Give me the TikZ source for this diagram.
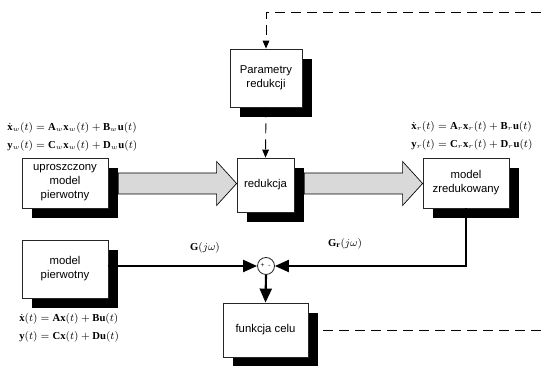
\documentclass[tikz,border=0pt]{standalone}
\usepackage{fontspec}
\setmainfont{Liberation Serif}
\newfontfamily\arialf{Liberation Sans}
\usetikzlibrary{arrows.meta,shadows,calc}
\newcommand\sbw{_{\scriptscriptstyle w}}
\newcommand\sbr{_{\scriptscriptstyle r}}
\begin{document}
\begin{tikzpicture}[x=0.75pt,y=0.75pt,
 blk/.style={draw=black!85, line width=0.6pt, fill=white, align=center,
   font=\arialf\fontsize{8.5}{10.5}\selectfont, inner sep=1pt,
   drop shadow={shadow xshift=7.5pt, shadow yshift=-7.5pt, fill=black, opacity=1}},
 thickline/.style={line width=1.6pt},
 bigtip/.style={-{Triangle[length=10.5pt,width=9pt]}},
 dashline/.style={line width=0.7pt, dash pattern=on 7.5pt off 4.5pt},
 smalltip/.style={-{Triangle[length=6pt,width=5pt]}},
 eq/.style={anchor=west, font=\fontsize{8}{10}\selectfont, inner sep=0pt},
 hollow/.style={draw=black, line width=0.5pt, fill=black!15},
 lbl/.style={font=\fontsize{8}{10}\selectfont, inner sep=0pt},
]
\useasboundingbox (0,0) rectangle (541,366);
% blocks
\node[blk, minimum width=64.5pt, minimum height=37.5pt] (upr) at (65,183) {uproszczony\\model\\pierwotny};
\node[blk, minimum width=54pt, minimum height=43.5pt] (par) at (266,288) {Parametry\\redukcji};
\node[blk, minimum width=42.75pt, minimum height=40.5pt] (red) at (265.5,181) {redukcja};
\node[blk, minimum width=64.5pt, minimum height=37.5pt] (zred) at (466,183) {model\\zredukowany};
\node[blk, minimum width=64.5pt, minimum height=43.5pt] (mp) at (65,97) {model\\pierwotny};
\node[blk, minimum width=63.75pt, minimum height=40.5pt] (fc) at (265.5,36) {funkcja celu};
\node[draw=black!85, line width=0.6pt, fill=white, circle, minimum size=12.75pt, inner sep=0pt] (sum) at (266,100) {};
\node[font=\arialf\fontsize{5}{5}\selectfont, inner sep=0pt] at ($(sum)+(-3.5,0)$) {+};
\node[font=\arialf\fontsize{5}{5}\selectfont, inner sep=0pt] at ($(sum)+(3.5,0)$) {-};
% hollow arrows
\coordinate (h1s) at ($(upr.east)+(10,-0.5)$);
\coordinate (h1e) at (red.west |- h1s);
\draw[hollow] ($(h1s)+(0,10.5)$) -- ($(h1e)+(-20,10.5)$) -- ($(h1e)+(-20,22)$) -- (h1e)
  -- ($(h1e)+(-20,-22)$) -- ($(h1e)+(-20,-10.5)$) -- ($(h1s)+(0,-10.5)$) -- cycle;
\coordinate (h2s) at ($(red.east)+(10,1.5)$);
\coordinate (h2e) at (zred.west |- h2s);
\draw[hollow] ($(h2s)+(0,10.5)$) -- ($(h2e)+(-20,10.5)$) -- ($(h2e)+(-20,22)$) -- (h2e)
  -- ($(h2e)+(-20,-22)$) -- ($(h2e)+(-20,-10.5)$) -- ($(h2s)+(0,-10.5)$) -- cycle;
% thick connectors
\draw[thickline, bigtip] (sum.west -| mp.east) -- (sum.west);
\draw[thickline, bigtip] (zred.south) |- (sum.east);
\draw[thickline, bigtip] (sum.south) -- (fc.north);
% dashed
\coordinate (tr) at (541,354);
\coordinate (br) at (541,36);
\draw[dashline, smalltip] (tr) -| (par.north);
\draw[dashline, smalltip] (par.south) -- (red.north);
\draw[dashline] ($(fc.east)+(15,0)$) -- (br);
% labels
\node[lbl] at (205,118) {$\mathbf{G}(j\omega)$};
\node[lbl] at (345,122) {$\mathbf{G}_{\mathbf{r}}(j\omega)$};
% equations
\node[eq] at (7,238) {$\dot{\mathbf{x}}\sbw(t)=\mathbf{A}\sbw\mathbf{x}\sbw(t)+\mathbf{B}\sbw\mathbf{u}(t)$};
\node[eq] at (7,220) {$\mathbf{y}\sbw(t)=\mathbf{C}\sbw\mathbf{x}\sbw(t)+\mathbf{D}\sbw\mathbf{u}(t)$};
\node[eq] at (411,239) {$\dot{\mathbf{x}}\sbr(t)=\mathbf{A}\sbr\mathbf{x}\sbr(t)+\mathbf{B}\sbr\mathbf{u}(t)$};
\node[eq] at (411,221) {$\mathbf{y}\sbr(t)=\mathbf{C}\sbr\mathbf{x}\sbr(t)+\mathbf{D}\sbr\mathbf{u}(t)$};
\node[eq] at (19,47) {$\dot{\mathbf{x}}(t)=\mathbf{A}\mathbf{x}(t)+\mathbf{B}\mathbf{u}(t)$};
\node[eq] at (19,29) {$\mathbf{y}(t)=\mathbf{C}\mathbf{x}(t)+\mathbf{D}\mathbf{u}(t)$};
\end{tikzpicture}
\end{document}
